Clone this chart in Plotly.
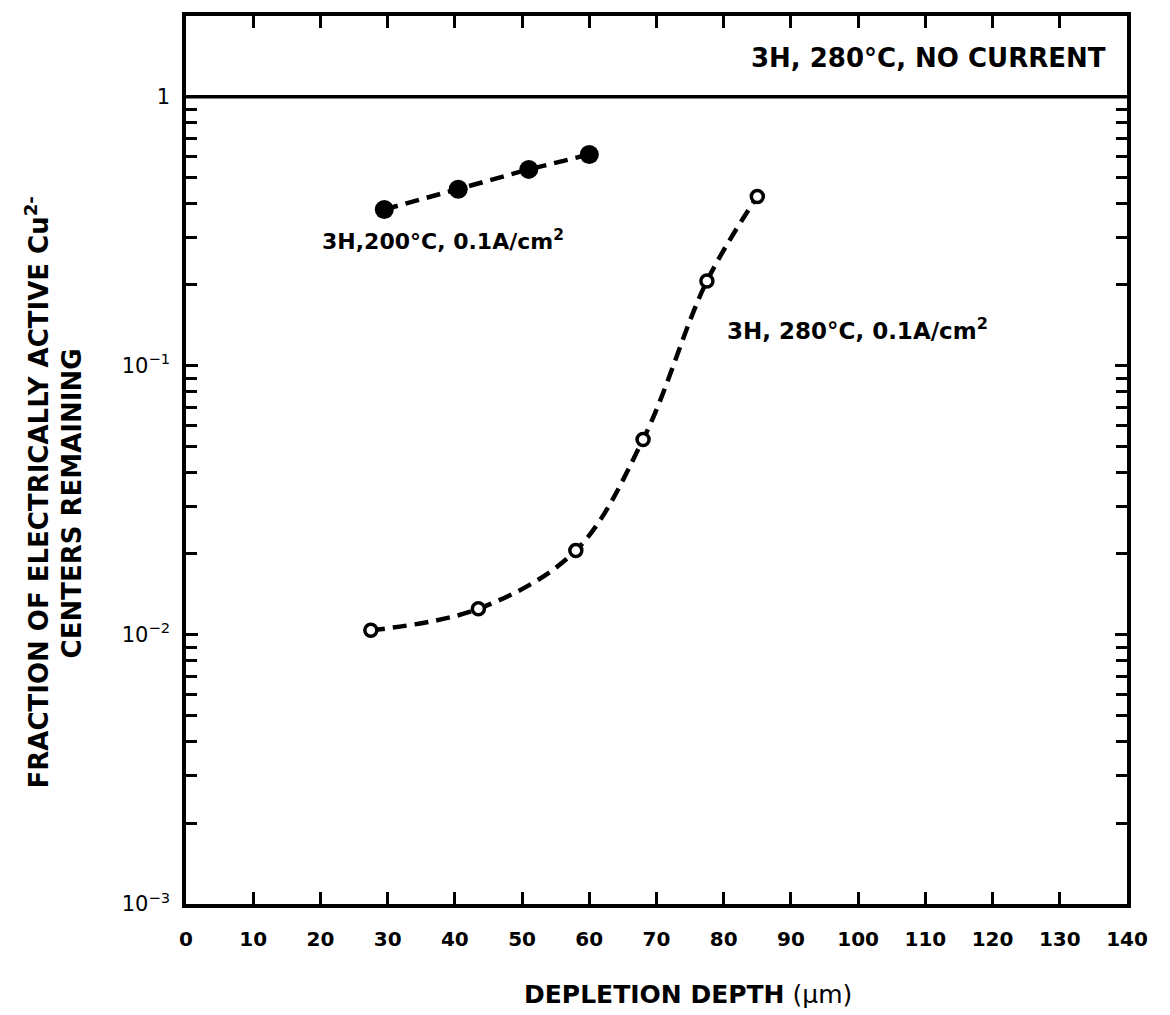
import plotly.graph_objects as go

# Data (depletion depth in micrometres, fraction remaining)
depth_200C = [29.5, 40.5, 51, 60]
frac_200C = [0.381, 0.453, 0.537, 0.610]

depth_280C = [27.5, 43.5, 58, 68, 77.5, 85]
frac_280C = [0.0104, 0.0125, 0.0206, 0.0532, 0.2065, 0.426]

x_ticks = [0, 10, 20, 30, 40, 50, 60, 70, 80, 90, 100, 110, 120, 130, 140]
y_ticks = [0.001, 0.01, 0.1, 1]
y_tick_labels = ["10<sup>−3</sup>", "10<sup>−2</sup>", "10<sup>−1</sup>", "1"]
no_current_level = 1.0

label_200C = "3H,200°C, 0.1A/cm<sup>2</sup>"
label_280C = "3H, 280°C, 0.1A/cm<sup>2</sup>"
label_nocurrent = "3H, 280°C, NO CURRENT"
x_title = "<b>DEPLETION DEPTH</b> (μm)"
y_title_1 = "<b>FRACTION OF ELECTRICALLY ACTIVE Cu<sup>2-</sup></b>"
y_title_2 = "<b>CENTERS REMAINING</b>"

FONT = "DejaVu Sans"
W, H = 1170, 1015
L, R, T, B = 186, 43, 13, 111

fig = go.Figure()

fig.add_trace(go.Scatter(
    x=depth_280C, y=frac_280C, mode="lines+markers",
    line=dict(color="black", width=4.5, dash="14px,8px", shape="spline", smoothing=1.0),
    marker=dict(symbol="circle", size=12, color="white", line=dict(color="black", width=3.5)),
    showlegend=False, hoverinfo="x+y",
))
fig.add_trace(go.Scatter(
    x=depth_200C, y=frac_200C, mode="lines+markers",
    line=dict(color="black", width=4.5, dash="14px,8px"),
    marker=dict(symbol="circle", size=19, color="black", line=dict(width=0)),
    showlegend=False, hoverinfo="x+y",
))

fig.add_shape(type="line", xref="paper", x0=0, x1=1, yref="y",
              y0=no_current_level, y1=no_current_level,
              line=dict(color="black", width=3.5))

fig.update_xaxes(
    range=[0, 140], tickvals=x_ticks, ticktext=[str(v) for v in x_ticks],
    ticks="inside", ticklen=12, tickwidth=3, tickcolor="black",
    showline=True, linewidth=3.5, linecolor="black", mirror="ticks",
    showgrid=False, zeroline=False,
    tickfont=dict(family=FONT, size=20, color="black", weight="bold"),
    ticklabelstandoff=14,
)
fig.update_yaxes(
    type="log", range=[-3, 0.3], tickvals=y_ticks, ticktext=y_tick_labels,
    ticks="inside", ticklen=12, tickwidth=3, tickcolor="black",
    showline=True, linewidth=3.5, linecolor="black", mirror="ticks",
    showgrid=False, zeroline=False,
    minor=dict(ticks="inside", ticklen=11, tickwidth=2.5, tickcolor="black",
               dtick="D1", showgrid=False),
    tickfont=dict(family=FONT, size=21, color="black"),
    ticklabelstandoff=8,
)

ann_font = dict(family=FONT, color="black")
fig.add_annotation(text=f"<b>{label_200C}</b>", xref="paper", yref="paper",
                   x=0.1424, y=0.7475, xanchor="left", yanchor="middle",
                   showarrow=False, font=dict(size=22, **ann_font))
fig.add_annotation(text=f"<b>{label_280C}</b>", xref="paper", yref="paper",
                   x=0.5728, y=0.6476, xanchor="left", yanchor="middle",
                   showarrow=False, font=dict(size=23, **ann_font))
fig.add_annotation(text=f"<b>{label_nocurrent}</b>", xref="paper", yref="paper",
                   x=0.9798, y=0.9529, xanchor="right", yanchor="middle",
                   showarrow=False, font=dict(size=26, **ann_font))
fig.add_annotation(text=x_title, xref="paper", yref="paper",
                   x=0.5335, y=-0.1021, xanchor="center", yanchor="middle",
                   showarrow=False, font=dict(size=25, **ann_font))
fig.add_annotation(text=y_title_1, xref="paper", yref="paper",
                   x=-0.1583, y=0.4635, xanchor="center", yanchor="middle",
                   textangle=-90, showarrow=False, font=dict(size=26, **ann_font))
fig.add_annotation(text=y_title_2, xref="paper", yref="paper",
                   x=-0.1211, y=0.4512, xanchor="center", yanchor="middle",
                   textangle=-90, showarrow=False, font=dict(size=26, **ann_font))

fig.update_layout(
    width=W, height=H, margin=dict(l=L, r=R, t=T, b=B),
    paper_bgcolor="white", plot_bgcolor="white",
    font=dict(family=FONT, color="black"),
    showlegend=False,
)

fig.write_html("out.html")
